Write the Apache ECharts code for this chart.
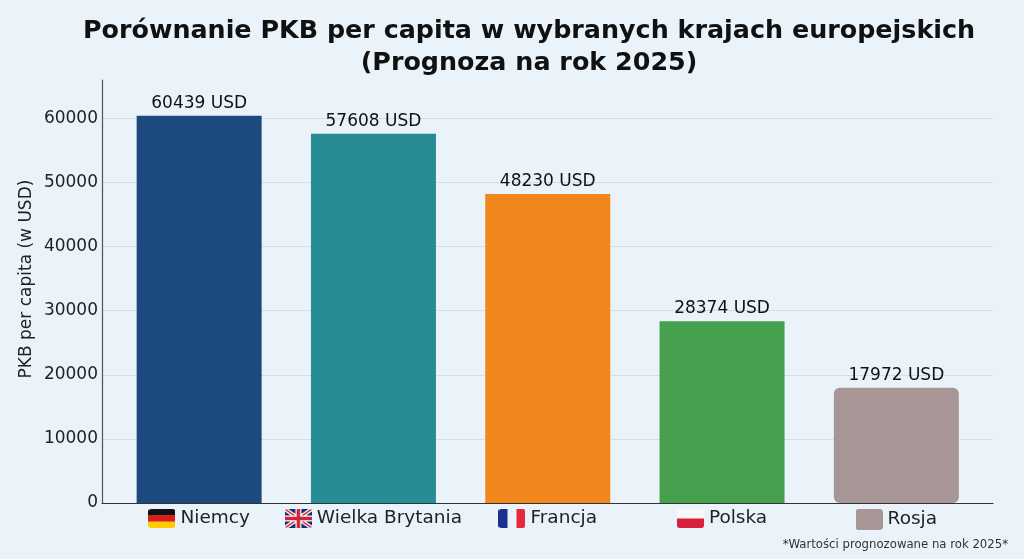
<!DOCTYPE html>
<html>
<head>
<meta charset="utf-8">
<script src="https://cdn.jsdelivr.net/npm/echarts@6/dist/echarts.min.js"></script>
<style>
  html, body { margin: 0; padding: 0; background: #eaf3f9; }
  #main { width: 1024px; height: 559px; }
</style>
</head>
<body>
<div id="main"></div>
<script>
// dane
var countries = ["Niemcy", "Wielka Brytania", "Francja", "Polska", "Rosja"];
var flagKeys = ["de", "gb", "fr", "pl", "ru"];
var gdp = [60439, 57608, 48230, 28374, 17972];
var yTicks = [0, 10000, 20000, 30000, 40000, 50000, 60000];

var barColors = ["#1d4a7e", "#278c96", "#f0861c", "#46a04e", "#a89697"];
var font = "DejaVu Sans";

// małe flagi rysowane na canvasie
function makeFlag(key) {
  var w = 54, h = 38;
  var c = document.createElement("canvas");
  c.width = w; c.height = h;
  var g = c.getContext("2d");
  g.beginPath();
  if (g.roundRect) g.roundRect(0, 0, w, h, 5); else g.rect(0, 0, w, h);
  g.clip();
  if (key === "de") {
    g.fillStyle = "#111"; g.fillRect(0, 0, w, h / 3);
    g.fillStyle = "#dd1c1c"; g.fillRect(0, h / 3, w, h / 3);
    g.fillStyle = "#ffcc00"; g.fillRect(0, 2 * h / 3, w, h / 3);
  } else if (key === "gb") {
    g.fillStyle = "#1a2a6c"; g.fillRect(0, 0, w, h);
    g.strokeStyle = "#fff"; g.lineWidth = 8;
    g.beginPath(); g.moveTo(0, 0); g.lineTo(w, h); g.moveTo(w, 0); g.lineTo(0, h); g.stroke();
    g.strokeStyle = "#d0243a"; g.lineWidth = 3;
    g.beginPath(); g.moveTo(0, 0); g.lineTo(w, h); g.moveTo(w, 0); g.lineTo(0, h); g.stroke();
    g.fillStyle = "#fff"; g.fillRect(w / 2 - 6, 0, 12, h); g.fillRect(0, h / 2 - 6, w, 12);
    g.fillStyle = "#d0243a"; g.fillRect(w / 2 - 3.5, 0, 7, h); g.fillRect(0, h / 2 - 3.5, w, 7);
  } else if (key === "fr") {
    g.fillStyle = "#1b2f8f"; g.fillRect(0, 0, w / 3, h);
    g.fillStyle = "#eaf3f9"; g.fillRect(w / 3, 0, w / 3, h);
    g.fillStyle = "#e8283c"; g.fillRect(2 * w / 3, 0, w / 3, h);
  } else if (key === "pl") {
    g.fillStyle = "#f7f7f7"; g.fillRect(0, 0, w, h / 2);
    g.fillStyle = "#d9213e"; g.fillRect(0, h / 2, w, h / 2);
  } else {
    g.fillStyle = "#a89697"; g.fillRect(0, 0, w, h);
  }
  return c.toDataURL();
}

var rich = {
  name: { fontFamily: font, fontSize: 18.5, color: "#222", padding: [0, 0, 0, 5] }
};
flagKeys.forEach(function (k) {
  rich[k] = {
    width: 27,
    height: k === "ru" ? 21 : 19,
    backgroundColor: { image: makeFlag(k) }
  };
});

var myChart = echarts.init(document.getElementById("main"));
myChart.setOption({
  backgroundColor: "#eaf3f9",
  graphic: [
    {
      type: "text",
      x: 529,
      y: 15,
      style: {
        text: "Porównanie PKB per capita w wybranych krajach europejskich\n(Prognoza na rok 2025)",
        font: "bold 25.4px 'DejaVu Sans'",
        fill: "#111",
        align: "center",
        lineHeight: 32
      }
    },
    {
      type: "text",
      x: 27,
      y: 279,
      rotation: Math.PI / 2,
      style: {
        text: "PKB per capita (w USD)",
        font: "17px 'DejaVu Sans'",
        fill: "#222",
        align: "center",
        verticalAlign: "middle"
      }
    },
    {
      type: "text",
      right: 16,
      bottom: 8,
      style: {
        text: "*Wartości prognozowane na rok 2025*",
        font: "13px 'DejaVu Sans Condensed'",
        fill: "#333"
      }
    }
  ],
  grid: [
    { left: 102, right: 31, top: 80, bottom: 56 },
    { left: 112, right: 40.5, top: 80, bottom: 56 }
  ],
  xAxis: [
    {
      gridIndex: 0,
      type: "value",
      min: 0,
      max: 1,
      axisLine: { show: true, onZero: false, lineStyle: { color: "#333", width: 1.2 } },
      axisTick: { show: false },
      axisLabel: { show: false },
      splitLine: { show: false }
    },
    {
      gridIndex: 1,
      type: "category",
      data: countries,
      axisLine: { show: false },
      axisTick: { show: false },
      axisLabel: {
        interval: 0,
        margin: 6,
        formatter: function (value, i) {
          return "{" + flagKeys[i] + "|}{name|" + value + "}";
        },
        rich: rich
      }
    }
  ],
  yAxis: [
    {
      gridIndex: 0,
      type: "value",
      min: 0,
      max: 66000,
      interval: 10000,
      axisLine: { show: true, lineStyle: { color: "#555", width: 1.2 } },
      axisTick: { show: false },
      axisLabel: {
        fontFamily: font,
        fontSize: 17,
        color: "#222",
        margin: 4,
        formatter: function (v) {
          return yTicks.indexOf(v) >= 0 ? String(v) : "";
        }
      },
      splitLine: {
        show: true,
        showMaxLine: false,
        lineStyle: { color: "#d4dfe4", width: 1.2 }
      }
    },
    {
      gridIndex: 1,
      type: "value",
      min: 0,
      max: 66000,
      show: false
    }
  ],
  series: [
    {
      type: "bar",
      xAxisIndex: 1,
      yAxisIndex: 1,
      barWidth: 125,
      data: gdp.map(function (v, i) {
        return {
          value: v,
          itemStyle: {
            color: barColors[i],
            borderRadius: i === 4 ? 6 : 0
          }
        };
      }),
      label: {
        show: true,
        position: "top",
        distance: 4,
        fontFamily: font,
        fontSize: 17,
        color: "#111",
        formatter: "{c} USD"
      }
    }
  ]
});
</script>
</body>
</html>
